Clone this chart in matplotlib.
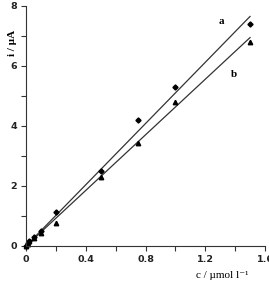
import numpy as np
import matplotlib.pyplot as plt
from matplotlib.ticker import MultipleLocator

# concentration (umol/l) and peak current (uA)
conc = [0.0, 0.01, 0.02, 0.05, 0.1, 0.2, 0.5, 0.75, 1.0, 1.5]
i_a = [0.0, 0.1, 0.18, 0.3, 0.5, 1.13, 2.5, 4.2, 5.3, 7.4]
i_b = [0.0, 0.08, 0.15, 0.25, 0.43, 0.77, 2.3, 3.43, 4.8, 6.8]

# calibration lines (slope, intercept)
fit_a = (5.1, 0.0)
fit_b = (4.63, 0.0)
fit_range = [0.0, 1.5]

fig = plt.figure(figsize=(2.69, 2.83), dpi=100)
ax = fig.add_axes([0.097, 0.131, 0.888, 0.848])

xf = np.array(fit_range)
ax.plot(xf, fit_a[0] * xf + fit_a[1], color="#333333", lw=0.9)
ax.plot(xf, fit_b[0] * xf + fit_b[1], color="#333333", lw=0.9)
ax.plot(conc, i_a, "D", color="black", ms=2.6, clip_on=False)
ax.plot(conc, i_b, "^", color="black", ms=3.2, clip_on=False)

serif = ["Liberation Serif", "DejaVu Serif"]
ax.text(1.31, 7.47, "a", family=serif, fontsize=8, fontweight="bold", ha="center", va="center")
ax.text(1.39, 5.7, "b", family=serif, fontsize=8, fontweight="bold", ha="center", va="center")

ax.set_xlim(0, 1.6)
ax.set_ylim(0, 8)
ax.xaxis.set_major_locator(MultipleLocator(0.4))
ax.xaxis.set_minor_locator(MultipleLocator(0.2))
ax.yaxis.set_major_locator(MultipleLocator(2))
ax.yaxis.set_minor_locator(MultipleLocator(1))
ax.xaxis.set_major_formatter(plt.FuncFormatter(lambda v, p: "0" if v == 0 else f"{v:.1f}"))

for s in ["top", "right"]:
    ax.spines[s].set_visible(False)
for s in ["left", "bottom"]:
    ax.spines[s].set_color("#333333")
    ax.spines[s].set_linewidth(0.8)

ax.tick_params(which="both", direction="out", color="#333333", width=0.8,
               labelsize=6.8, pad=3, length=3.5)
for lbl in ax.get_xticklabels() + ax.get_yticklabels():
    lbl.set_fontweight("bold")
    lbl.set_color("#222222")

fig.text(0.045, 0.85, "i / \u00b5A", family=serif, fontsize=8, fontweight="bold",
         rotation=90, ha="center", va="center")
fig.text(0.825, 0.025, "c / \u00b5mol l\u207b\u00b9", family=serif, fontsize=8,
         ha="center", va="center")

fig.savefig("out.png", dpi=100)
